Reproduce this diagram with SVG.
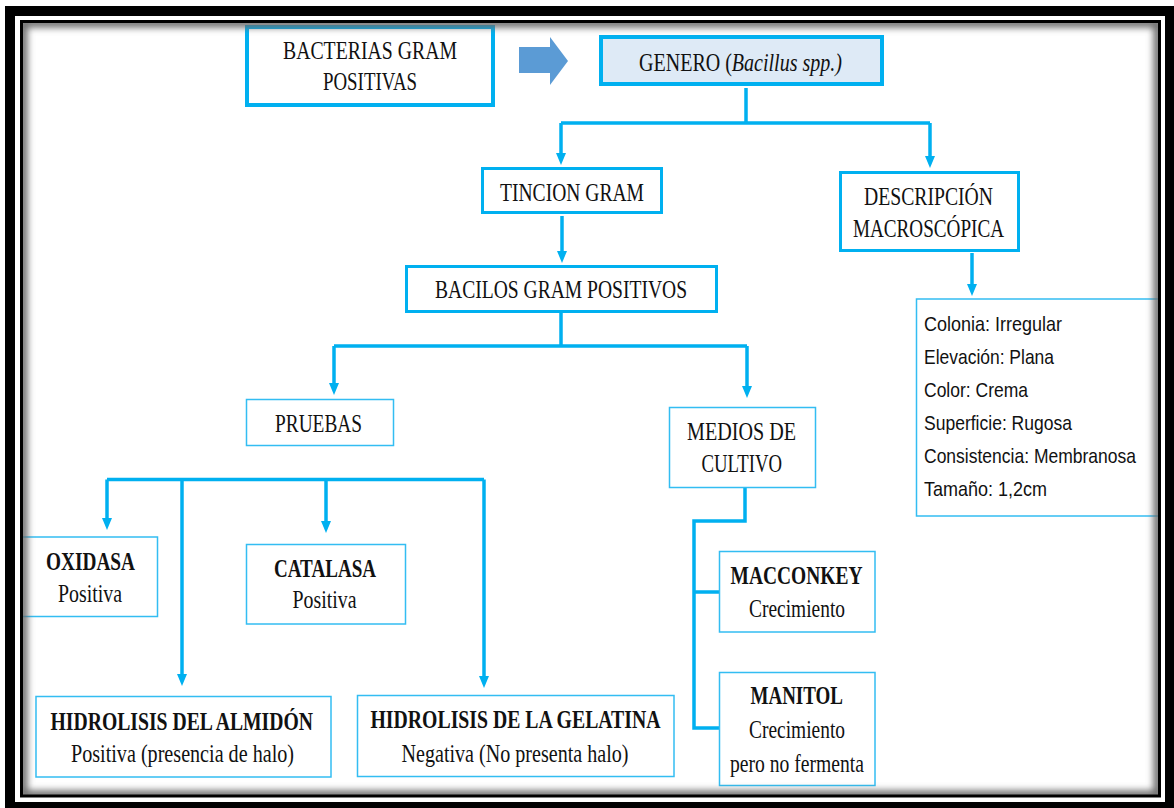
<svg xmlns="http://www.w3.org/2000/svg" width="1174" height="808" viewBox="0 0 1174 808">
<defs>
<style>
.t{font-family:"Liberation Serif","Times New Roman",serif;font-size:26px;fill:#111;text-anchor:start}
.b{font-weight:bold}
.it{font-style:italic}
.i{font-family:"Liberation Sans",Arial,sans-serif;font-size:21px;fill:#111}
.thick{fill:#fff;stroke:#00B0F0;stroke-width:3}
.thin{fill:#fff;stroke:#33BDF2;stroke-width:1.5}
.con{fill:none;stroke:#00B0F0;stroke-width:3.5}
</style>
<marker id="ah" viewBox="0 0 12 10" refX="4" refY="5" markerWidth="12" markerHeight="10" markerUnits="userSpaceOnUse" orient="auto">
<path d="M0,0 L12,5 L0,10 z" fill="#00B0F0"/>
</marker>
<clipPath id="inner"><rect x="23" y="23" width="1135" height="772"/></clipPath>
<filter id="blur" x="-5%" y="-5%" width="110%" height="110%"><feGaussianBlur stdDeviation="3.5"/></filter>
</defs>
<rect x="0" y="0" width="1174" height="808" fill="#fff"/>
<rect x="5" y="6" width="1169" height="802" fill="#000"/>
<rect x="15" y="16" width="1150" height="786" fill="#fff"/>

<g id="connectors">
<path class="con" d="M746,88 V123 M561,123 H930"/>
<path class="con" d="M561,123 V157" marker-end="url(#ah)"/>
<path class="con" d="M930,123 V160" marker-end="url(#ah)"/>
<path class="con" d="M562,216 V255" marker-end="url(#ah)"/>
<path class="con" d="M561,313 V346 M334,346 H747"/>
<path class="con" d="M334,346 V387" marker-end="url(#ah)"/>
<path class="con" d="M747,346 V390" marker-end="url(#ah)"/>
<path class="con" d="M972,253 V288" marker-end="url(#ah)"/>
<path class="con" d="M107,479.5 H484"/>
<path class="con" d="M107,479.5 V522" marker-end="url(#ah)"/>
<path class="con" d="M182,479.5 V678" marker-end="url(#ah)"/>
<path class="con" d="M326,479.5 V525" marker-end="url(#ah)"/>
<path class="con" d="M484,479.5 V680" marker-end="url(#ah)"/>
<path class="con" d="M745,488 V521 H694 V728 H719 M694,592 H719"/>
</g>

<g id="arrow-block">
<polygon points="519,47 550,47 550,37 568,61 550,85 550,73 519,73" fill="#5B9BD5"/>
</g>

<g id="bacterias">
<rect x="247" y="27" width="246" height="78" fill="#fff" stroke="#00B0F0" stroke-width="4"/>
<text class="t" x="283" y="59" textLength="174" lengthAdjust="spacingAndGlyphs">BACTERIAS  GRAM</text>
<text class="t" x="323" y="90" textLength="94" lengthAdjust="spacingAndGlyphs">POSITIVAS</text>
</g>

<g id="genero">
<rect x="601" y="37" width="281" height="47" fill="#DEEAF6" stroke="#00B0F0" stroke-width="4"/>
<text class="t" x="639" y="71" textLength="203" lengthAdjust="spacingAndGlyphs">GENERO (<tspan class="it">Bacillus spp.)</tspan></text>
</g>

<g id="tincion">
<rect class="thick" x="482.5" y="168.5" width="179" height="44"/>
<text class="t" x="500" y="201" textLength="144" lengthAdjust="spacingAndGlyphs">TINCION  GRAM</text>
</g>

<g id="descripcion">
<rect class="thick" x="840.5" y="172.5" width="178" height="78"/>
<text class="t" x="864" y="205" textLength="129" lengthAdjust="spacingAndGlyphs">DESCRIPCIÓN</text>
<text class="t" x="853" y="237" textLength="151" lengthAdjust="spacingAndGlyphs">MACROSCÓPICA</text>
</g>

<g id="bacilos">
<rect class="thick" x="406.5" y="266.5" width="310" height="45"/>
<text class="t" x="435" y="298" textLength="252" lengthAdjust="spacingAndGlyphs">BACILOS  GRAM POSITIVOS</text>
</g>

<g id="info">
<rect class="thin" x="916.5" y="299" width="243" height="217"/>
<text class="i" x="924" y="331" textLength="138" lengthAdjust="spacingAndGlyphs">Colonia: Irregular</text>
<text class="i" x="924" y="364" textLength="130" lengthAdjust="spacingAndGlyphs">Elevación: Plana</text>
<text class="i" x="924" y="397" textLength="104" lengthAdjust="spacingAndGlyphs">Color: Crema</text>
<text class="i" x="924" y="430" textLength="148" lengthAdjust="spacingAndGlyphs">Superficie: Rugosa</text>
<text class="i" x="924" y="463" textLength="212" lengthAdjust="spacingAndGlyphs">Consistencia: Membranosa</text>
<text class="i" x="924" y="496" textLength="123" lengthAdjust="spacingAndGlyphs">Tamaño: 1,2cm</text>
</g>

<g id="pruebas">
<rect class="thin" x="246.5" y="399.5" width="147" height="46"/>
<text class="t" x="275" y="432" textLength="87" lengthAdjust="spacingAndGlyphs">PRUEBAS</text>
</g>

<g id="medios">
<rect class="thin" x="669.5" y="407.5" width="146" height="80"/>
<text class="t" x="687" y="440" textLength="109" lengthAdjust="spacingAndGlyphs">MEDIOS  DE</text>
<text class="t" x="701.5" y="472" textLength="80.5" lengthAdjust="spacingAndGlyphs">CULTIVO</text>
</g>

<g id="oxidasa">
<rect class="thin" x="21.5" y="537" width="136" height="79.5"/>
<text class="t b" x="46" y="570" textLength="89" lengthAdjust="spacingAndGlyphs">OXIDASA</text>
<text class="t" x="58" y="601.5" textLength="64" lengthAdjust="spacingAndGlyphs">Positiva</text>
</g>

<g id="catalasa">
<rect class="thin" x="246.5" y="544.5" width="159" height="79.5"/>
<text class="t b" x="274" y="577" textLength="102" lengthAdjust="spacingAndGlyphs">CATALASA</text>
<text class="t" x="292.5" y="608" textLength="64" lengthAdjust="spacingAndGlyphs">Positiva</text>
</g>

<g id="almidon">
<rect class="thin" x="36" y="696.5" width="295" height="80.5"/>
<text class="t b" x="50.5" y="730" textLength="262.5" lengthAdjust="spacingAndGlyphs">HIDROLISIS  DEL ALMIDÓN</text>
<text class="t" x="71" y="761.5" textLength="223" lengthAdjust="spacingAndGlyphs">Positiva (presencia  de halo)</text>
</g>

<g id="gelatina">
<rect class="thin" x="357.5" y="695.5" width="316.5" height="81"/>
<text class="t b" x="370.5" y="728" textLength="290" lengthAdjust="spacingAndGlyphs">HIDROLISIS  DE LA GELATINA</text>
<text class="t" x="401.5" y="761.5" textLength="227" lengthAdjust="spacingAndGlyphs">Negativa (No presenta  halo)</text>
</g>

<g id="macconkey">
<rect class="thin" x="719.5" y="551.5" width="155.5" height="80.5"/>
<text class="t b" x="730.5" y="584" textLength="132" lengthAdjust="spacingAndGlyphs">MACCONKEY</text>
<text class="t" x="749" y="616.5" textLength="96" lengthAdjust="spacingAndGlyphs">Crecimiento</text>
</g>

<g id="manitol">
<rect class="thin" x="719.5" y="672.5" width="155.5" height="113"/>
<text class="t b" x="750.5" y="704" textLength="92.5" lengthAdjust="spacingAndGlyphs">MANITOL</text>
<text class="t" x="749" y="737.5" textLength="96" lengthAdjust="spacingAndGlyphs">Crecimiento</text>
<text class="t" x="730" y="771.5" textLength="134" lengthAdjust="spacingAndGlyphs">pero no fermenta</text>
</g>

<g id="frame">
<g clip-path="url(#inner)">
<rect x="23" y="23" width="1135" height="772" fill="none" stroke="#6a6a6a" stroke-width="9" filter="url(#blur)"/>
</g>
<rect x="21.5" y="21.5" width="1138" height="774.5" fill="none" stroke="#000" stroke-width="3"/>
</g>
</svg>
